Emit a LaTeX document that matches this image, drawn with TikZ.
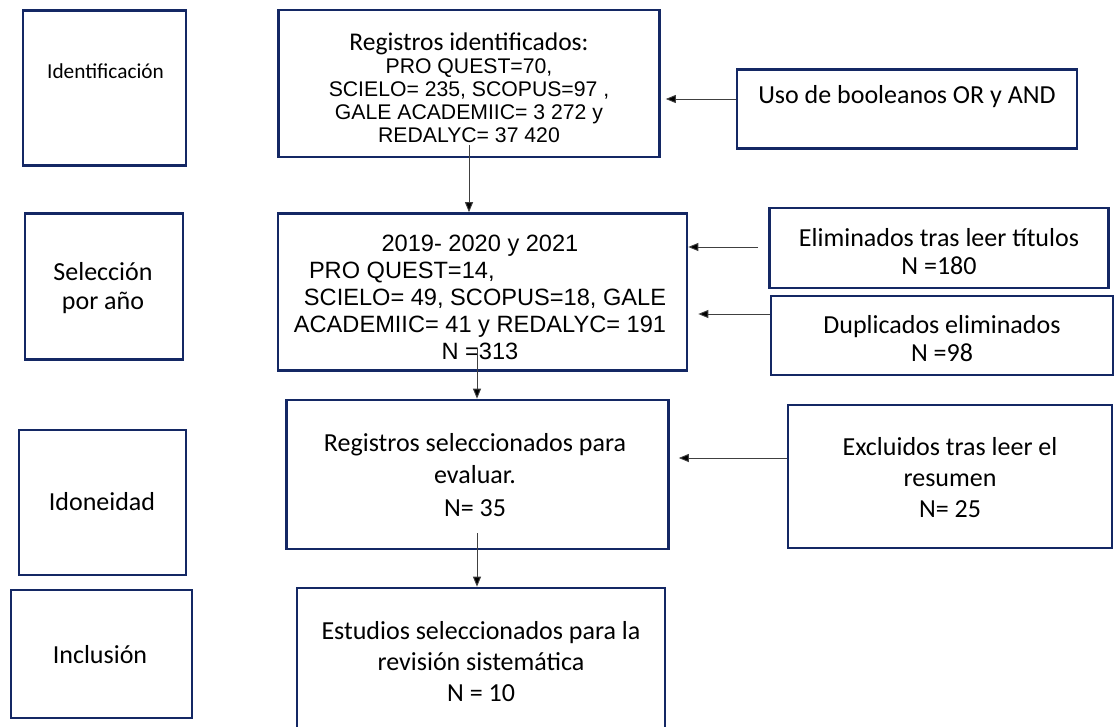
\documentclass[tikz,border=0pt]{standalone}
\usepackage{fontspec}
\setmainfont{Carlito}
\newfontfamily\arialf{Liberation Sans}
\usetikzlibrary{arrows.meta}
\definecolor{navy}{RGB}{20,40,100}
\begin{document}
\begin{tikzpicture}[x=1pt,y=-1pt,
  box/.style={draw=navy, line width=2.6pt, inner sep=0pt},
  txt/.style={align=center, inner sep=0pt, font=\fontsize{26}{31}\selectfont},
  arr/.style={draw=black!75, line width=0.9pt, -{Triangle[length=10pt,width=8pt,fill=black]}}
]
\useasboundingbox (0,0) rectangle (1114,726);
% boxes
\node[box, minimum width=163pt, minimum height=155pt] (ident) at (104.5,88) {};
\node[box, minimum width=381pt, minimum height=147pt] (regid) at (469,83.5) {};
\node[box, minimum width=340pt, minimum height=79pt] (uso) at (907,109) {};
\node[box, minimum width=158pt, minimum height=146pt] (sel) at (104,286.5) {};
\node[box, minimum width=409pt, minimum height=157pt] (yr) at (482.5,292) {};
\node[box, minimum width=339pt, minimum height=80pt] (elim) at (939,248) {};
\node[box, minimum width=342pt, minimum height=79pt] (dup) at (942,335.5) {};
\node[box, minimum width=167pt, minimum height=145pt] (idon) at (102.5,502.5) {};
\node[box, minimum width=382pt, minimum height=149pt] (regsel) at (477.5,474.5) {};
\node[box, minimum width=324pt, minimum height=143pt] (excl) at (950,476.5) {};
\node[box, minimum width=181pt, minimum height=128pt] (incl) at (101.5,654) {};
\node[box, minimum width=368pt, minimum height=140pt] (est) at (481,658) {};
% texts
\node[txt, font=\fontsize{21.3}{25}\selectfont] (tident) at (105.5,71) {Identificación};
\node[txt, font=\fontsize{24}{23}\selectfont] (tregid) at (469,88) {{\fontsize{25.5}{23}\selectfont Registros identificados:}\\
  {\arialf\fontsize{21.2}{23}\selectfont PRO QUEST=70,}\\
  {\arialf\fontsize{21.2}{23}\selectfont SCIELO= 235, SCOPUS=97 ,}\\
  {\arialf\fontsize{21.2}{23}\selectfont GALE ACADEMIIC= 3 272 y}\\
  {\arialf\fontsize{21.2}{23}\selectfont REDALYC= 37 420}};
\node[txt] (tuso) at (907,97) {Uso de booleanos OR y AND};
\node[txt, font=\fontsize{26}{29}\selectfont] (tsel) at (103,288) {Selección\\por año};
\node[txt, font=\arialf\fontsize{23.6}{27}\selectfont] (tyr) at (480,297.5) {2019- 2020 y 2021\\
  \makebox[342pt][l]{PRO QUEST=14,}\\
  \hspace*{10pt}SCIELO= 49, SCOPUS=18, GALE\\
  ACADEMIIC= 41 y REDALYC= 191\\
  N =313};
\node[txt, font=\fontsize{26}{28}\selectfont] (telim) at (939,252) {Eliminados tras leer títulos\\N =180};
\node[txt, font=\fontsize{26}{28}\selectfont] (tdup) at (942,339) {Duplicados eliminados\\N =98};
\node[txt] (tidon) at (102,502) {Idoneidad};
\node[txt, font=\fontsize{26}{32.5}\selectfont] (tregsel) at (475,475) {Registros seleccionados para\\evaluar.\\N= 35};
\node[txt] (texcl) at (950,478) {Excluidos tras leer el\\resumen\\N= 25};
\node[txt] (tincl) at (100,655) {Inclusión};
\node[txt, font=\fontsize{26}{31}\selectfont] (test) at (481,661.5) {Estudios seleccionados para la\\revisión sistemática\\N = 10};
% connectors
\coordinate (a1) at (469,145);
\draw[arr] (a1) -- (a1 |- yr.north);
\coordinate (a2) at (uso.west |- 0,99);
\draw[arr] (a2) -- ([xshift=5pt]regid.east |- a2);
\coordinate (a3) at (758,247);
\draw[arr] (a3) -- (yr.east |- a3);
\coordinate (a4) at (dup.west |- 0,314);
\draw[arr] (a4) -- ([xshift=10pt]yr.east |- a4);
\coordinate (a5) at (477,348);
\draw[arr] (a5) -- (a5 |- regsel.north);
\coordinate (a6) at (excl.west |- 0,458);
\draw[arr] (a6) -- ([xshift=9pt]regsel.east |- a6);
\coordinate (a7) at (477,533);
\draw[arr] (a7) -- (a7 |- est.north);
\end{tikzpicture}
\end{document}
